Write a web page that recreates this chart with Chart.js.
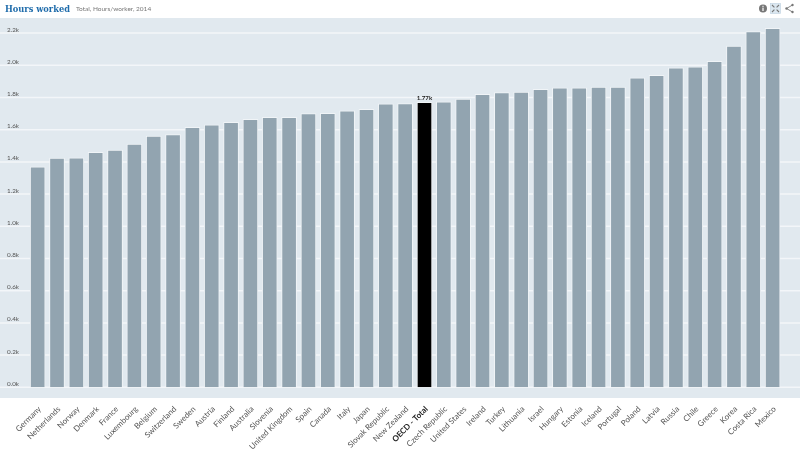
<!DOCTYPE html>
<html>
<head>
<meta charset="utf-8">
<title>Hours worked</title>
<script src="https://cdn.jsdelivr.net/npm/chart.js@4"></script>
<style>
    html, body { margin: 0; padding: 0; background: #fff; overflow: hidden; }
    #wrap { position: relative; width: 800px; height: 449px; }
    #chart { position: absolute; left: 0; top: 0; }
    .head { position: absolute; white-space: nowrap; }
    #title { left: 5px; top: 0.5px; font: bold 9.2px/16px "DejaVu Serif Condensed", "DejaVu Serif", serif; color: #1f6cab; }
    #sub { left: 76px; top: 1px; font: 6.5px/16px Lato, sans-serif; color: #777; }
    #icons { position: absolute; left: 757px; top: 3px; }
</style>
</head>
<body>
<div id="wrap">
    <canvas id="chart" width="800" height="449"></canvas>
    <div id="title" class="head">Hours worked</div>
    <div id="sub" class="head">Total, Hours/worker, 2014</div>
    <svg id="icons" width="40" height="12" viewBox="0 0 40 12">
        <circle cx="6" cy="5.5" r="4" fill="#777"/>
        <rect x="5.4" y="4.6" width="1.2" height="3.4" fill="#fff"/>
        <rect x="5.4" y="2.8" width="1.2" height="1.1" fill="#fff"/>
        <rect x="13.5" y="0.5" width="10" height="10" fill="#dbe7f0" stroke="#c4d6e3" stroke-width="0.7"/>
        <path d="M15 2l2.4 2.4M22 2l-2.4 2.4M15 9l2.4-2.4M22 9l-2.4-2.4" stroke="#777" stroke-width="1.1"/>
        <path d="M35.5 2L29.5 5.5L35.5 9" fill="none" stroke="#777" stroke-width="0.9"/>
        <circle cx="35.5" cy="2" r="1.2" fill="#777"/><circle cx="29.5" cy="5.5" r="1.2" fill="#777"/><circle cx="35.5" cy="9" r="1.2" fill="#777"/>
    </svg>
</div>
<script>
const countries = ['Germany', 'Netherlands', 'Norway', 'Denmark', 'France', 'Luxembourg', 'Belgium', 'Switzerland', 'Sweden', 'Austria', 'Finland', 'Australia', 'Slovenia', 'United Kingdom', 'Spain', 'Canada', 'Italy', 'Japan', 'Slovak Republic', 'New Zealand', 'OECD - Total', 'Czech Republic', 'United States', 'Ireland', 'Turkey', 'Lithuania', 'Israel', 'Hungary', 'Estonia', 'Iceland', 'Portugal', 'Poland', 'Latvia', 'Russia', 'Chile', 'Greece', 'Korea', 'Costa Rica', 'Mexico'];
const hours = [1369, 1423, 1426, 1460, 1473, 1510, 1560, 1569, 1615, 1630, 1646, 1665, 1677, 1677, 1700, 1702, 1717, 1727, 1760, 1762, 1770, 1773, 1790, 1820, 1831, 1833, 1851, 1860, 1860, 1864, 1864, 1922, 1937, 1984, 1990, 2025, 2120, 2210, 2229];
const yTicks = [0, 200, 400, 600, 800, 1000, 1200, 1400, 1600, 1800, 2000, 2200];
const highlight = 'OECD - Total';

// plot band and gridlines run the full page width, past the scale's own area
const plotBackground = {
    id: 'plotBackground',
    beforeDraw(chart) {
        const { ctx, width, scales: { y } } = chart;
        ctx.save();
        ctx.fillStyle = '#e1e9ef';
        ctx.fillRect(0, 18, width, 380);
        ctx.strokeStyle = '#f3f6f9';
        ctx.lineWidth = 1.5;
        yTicks.forEach(t => {
            const py = y.getPixelForValue(t);
            ctx.beginPath();
            ctx.moveTo(0, py);
            ctx.lineTo(width, py);
            ctx.stroke();
        });
        ctx.restore();
    }
};

const highlightLabel = {
    id: 'highlightLabel',
    afterDatasetsDraw(chart) {
        const i = countries.indexOf(highlight);
        const bar = chart.getDatasetMeta(0).data[i];
        const { ctx } = chart;
        ctx.save();
        ctx.font = 'bold 6.2px Lato, sans-serif';
        ctx.fillStyle = '#222';
        ctx.textAlign = 'center';
        ctx.textBaseline = 'bottom';
        ctx.fillText((hours[i] / 1000).toFixed(2) + 'k', bar.x, bar.y - 1);
        ctx.restore();
    }
};

new Chart(document.getElementById('chart'), {
    type: 'bar',
    data: {
        labels: countries,
        datasets: [{
            label: 'Hours worked',
            data: hours,
            backgroundColor: countries.map(c => c === highlight ? '#000' : '#92a4b0'),
            borderColor: '#f0f4f7',
            borderWidth: { top: 1, left: 1, right: 1, bottom: 0 },
            barThickness: 15
        }]
    },
    options: {
        responsive: false,
        animation: false,
        layout: { padding: { left: 7, right: 17.7, top: 17, bottom: 0 } },
        plugins: { legend: { display: false }, tooltip: { enabled: false } },
        scales: {
            x: {
                grid: { display: false },
                border: { display: false },
                afterFit(scale) {
                    scale.height = 61.7;
                    // rotated labels would otherwise push the plot inward
                    scale.paddingLeft = 0;
                    scale.paddingRight = 0;
                },
                ticks: {
                    autoSkip: false,
                    minRotation: 45,
                    maxRotation: 45,
                    padding: 9,
                    labelOffset: 2,
                    color: ctx => countries[ctx.index] === highlight ? '#222' : '#555',
                    font: ctx => ({ family: 'Lato, sans-serif', size: 8, weight: countries[ctx.index] === highlight ? 'bold' : 'normal' })
                }
            },
            y: {
                min: 0,
                max: 2300,
                grid: { display: false },
                border: { display: false },
                afterFit(scale) { scale.width = 21; },
                ticks: {
                    stepSize: 200,
                    includeBounds: false,
                    crossAlign: 'far',
                    labelOffset: -3.5,
                    color: '#555',
                    font: { family: 'Lato, sans-serif', size: 6.3 },
                    callback: v => (v / 1000).toFixed(1) + 'k'
                }
            }
        }
    },
    plugins: [plotBackground, highlightLabel]
});
</script>
</body>
</html>
